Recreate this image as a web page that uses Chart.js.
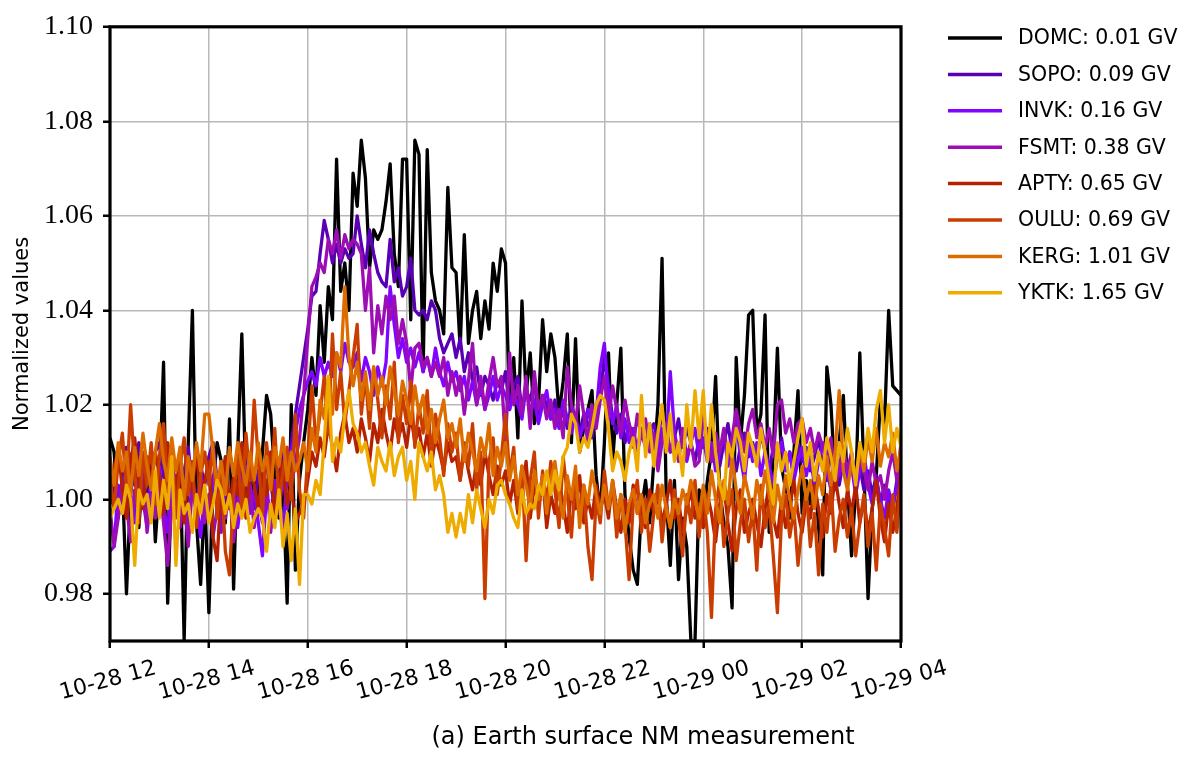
<!DOCTYPE html>
<html lang="en">
<head>
<meta charset="UTF-8">
<title>Earth surface NM measurement</title>
<script src="https://cdn.jsdelivr.net/npm/chart.js"></script>
<style>
    body {
        margin: 0;
        padding: 0;
        background: white;
    }
    #nmChart {
        display: block;
    }
</style>
</head>
<body>
<canvas id="nmChart" width="1189" height="757"></canvas>
<script>
    // stations, cut-off rigidity in the label
    const stations = ['DOMC: 0.01 GV', 'SOPO: 0.09 GV', 'INVK: 0.16 GV', 'FSMT: 0.38 GV',
                      'APTY: 0.65 GV', 'OULU: 0.69 GV', 'KERG: 1.01 GV', 'YKTK: 1.65 GV'];
    const colors = ['#000000', '#5a00b4', '#8004ff', '#9c0db4', '#b42000', '#c93e00', '#dd6c00', '#eeab00'];

    // x axis in hours after 10-28 12:00, one value every 5 minutes
    const xTickHours = [0, 2, 4, 6, 8, 10, 12, 14, 16];
    const xTickLabels = ['10-28 12', '10-28 14', '10-28 16', '10-28 18', '10-28 20',
                         '10-28 22', '10-29 00', '10-29 02', '10-29 04'];
    const yTicks = [0.98, 1.00, 1.02, 1.04, 1.06, 1.08, 1.10];

    // one line per hour (12 values), last value is 04:00
    const domc = [
        1.013, 1.010, 0.997, 1.004, 0.980, 1.001, 1.008, 0.994, 1.006, 0.996, 1.011, 0.991,
        1.004, 1.029, 0.978, 1.004, 0.998, 1.010, 0.970, 1.012, 1.040, 0.995, 0.982, 1.001,
        0.976, 1.003, 1.012, 1.008, 0.995, 1.017, 0.981, 1.010, 1.035, 1.002, 0.998, 1.006,
        1.000, 1.010, 1.022, 1.018, 1.005, 0.996, 1.003, 0.978, 1.020, 0.985, 1.004, 1.012,
        1.019, 1.030, 1.022, 1.041, 1.029, 1.045, 1.038, 1.072, 1.044, 1.050, 1.040, 1.069,
        1.062, 1.076, 1.068, 1.049, 1.057, 1.055, 1.057, 1.063, 1.071, 1.052, 1.045, 1.072,
        1.072, 1.038, 1.076, 1.073, 1.027, 1.074, 1.048, 1.042, 1.040, 1.035, 1.066, 1.049,
        1.048, 1.032, 1.056, 1.033, 1.040, 1.044, 1.034, 1.042, 1.036, 1.050, 1.044, 1.053,
        1.050, 1.019, 1.030, 1.013, 1.042, 1.022, 1.031, 1.016, 1.020, 1.038, 1.027, 1.035,
        1.030, 1.018, 1.025, 1.035, 1.012, 1.034, 1.010, 1.015, 1.019, 1.023, 1.005, 0.997,
        1.012, 1.031, 1.008, 1.020, 1.032, 1.001, 0.992, 0.985, 0.982, 0.998, 1.004, 0.995,
        1.008, 1.020, 1.051, 1.001, 0.986, 1.004, 0.983, 0.996, 0.990, 0.970, 0.970, 1.002,
        0.996, 1.004, 1.010, 1.026, 1.002, 0.995, 0.990, 0.977, 1.030, 1.012, 1.022, 1.039,
        1.040, 1.014, 1.018, 1.039, 0.993, 1.010, 1.032, 1.007, 1.002, 0.996, 1.010, 1.023,
        0.997, 1.004, 0.999, 1.006, 0.994, 0.984, 1.028, 1.020, 1.004, 1.012, 1.022, 1.003,
        0.988, 1.002, 1.031, 1.006, 0.979, 0.998, 1.005, 1.021, 1.016, 1.040, 1.024, 1.023,
        1.022
    ];
    const sopo = [
        1.008, 1.002, 0.996, 1.005, 1.011, 1.009, 1.003, 1.012, 1.006, 0.999, 1.004, 1.010,
        1.012, 1.005, 1.000, 1.008, 1.003, 0.996, 1.006, 1.011, 1.002, 0.998, 1.007, 1.003,
        1.009, 1.012, 1.004, 0.996, 1.001, 1.010, 1.005, 0.999, 1.007, 1.011, 1.003, 0.998,
        1.006, 1.001, 1.008, 1.004, 0.997, 1.005, 1.010, 1.003, 1.012, 1.018, 1.024, 1.030,
        1.036, 1.043, 1.044, 1.052, 1.059, 1.055, 1.050, 1.054, 1.050, 1.053, 1.051, 1.052,
        1.060, 1.054, 1.049, 1.057, 1.052, 1.048, 1.046, 1.045, 1.055, 1.046, 1.049, 1.043,
        1.045, 1.051, 1.040, 1.039, 1.040, 1.038, 1.042, 1.040, 1.034, 1.031, 1.033, 1.035,
        1.030, 1.034, 1.027, 1.031, 1.025, 1.028, 1.022, 1.026, 1.024, 1.021, 1.025, 1.023,
        1.027, 1.020, 1.024, 1.026, 1.019, 1.023, 1.021, 1.025, 1.018, 1.022, 1.020, 1.017,
        1.021, 1.016, 1.019, 1.015, 1.020, 1.017, 1.014, 1.018, 1.016, 1.013, 1.019, 1.022,
        1.030, 1.024, 1.017, 1.014, 1.018, 1.012, 1.016, 1.013, 1.011, 1.015, 1.012, 1.014,
        1.016, 1.012, 1.019, 1.014, 1.010, 1.013, 1.017, 1.011, 1.015, 1.012, 1.008, 1.013,
        1.011, 1.015, 1.009, 1.013, 1.007, 1.012, 1.016, 1.010, 1.006, 1.011, 1.014, 1.009,
        1.012, 1.008, 1.014, 1.010, 1.006, 1.011, 1.009, 1.013, 1.007, 1.010, 1.005, 1.012,
        1.008, 1.011, 1.006, 1.009, 1.013, 1.007, 1.004, 1.010, 1.006, 1.003, 1.008, 1.005,
        1.009, 1.004, 1.007, 1.002, 1.006, 1.001, 1.005, 0.999, 1.003, 1.000, 0.998, 1.004,
        1.008
    ];
    const invk = [
        0.989, 0.990, 1.003, 0.997, 1.008, 1.001, 0.995, 1.006, 1.000, 0.994, 1.004, 0.998,
        1.007, 0.999, 0.993, 1.003, 0.997, 1.008, 1.001, 0.995, 1.004, 0.999, 0.992, 1.002,
        0.996, 1.005, 1.000, 0.993, 1.006, 0.998, 1.003, 0.994, 1.001, 1.007, 0.997, 1.002,
        0.995, 0.988, 1.001, 0.996, 1.004, 0.999, 0.993, 1.005, 1.010, 1.014, 1.019, 1.022,
        1.025, 1.027, 1.024, 1.030, 1.026, 1.029, 1.026, 1.031, 1.027, 1.033, 1.029, 1.028,
        1.031, 1.025, 1.030, 1.027, 1.022, 1.028, 1.024, 1.029, 1.045, 1.037, 1.030, 1.034,
        1.029, 1.032, 1.028, 1.031, 1.027, 1.030, 1.026, 1.032, 1.027, 1.024, 1.029, 1.025,
        1.027, 1.023, 1.026, 1.021, 1.025, 1.020, 1.024, 1.019, 1.022, 1.026, 1.021, 1.024,
        1.022, 1.019, 1.023, 1.020, 1.017, 1.024, 1.018, 1.021, 1.016, 1.020, 1.023, 1.017,
        1.019, 1.015, 1.021, 1.017, 1.014, 1.018, 1.013, 1.016, 1.019, 1.015, 1.018, 1.028,
        1.033, 1.022, 1.016, 1.020, 1.013, 1.017, 1.012, 1.015, 1.010, 1.014, 1.011, 1.016,
        1.013, 1.009, 1.015, 1.011, 1.027, 1.014, 1.010, 1.013, 1.008, 1.012, 1.015, 1.009,
        1.013, 1.008, 1.012, 1.006, 1.010, 1.014, 1.007, 1.011, 1.017, 1.009, 1.004, 1.012,
        1.008, 1.012, 1.005, 1.010, 1.007, 1.003, 1.009, 1.012, 1.006, 1.010, 1.004, 1.008,
        1.011, 1.005, 1.009, 1.003, 1.008, 1.012, 1.006, 1.002, 1.009, 1.005, 1.010, 1.004,
        1.007, 1.001, 1.006, 1.010, 1.003, 0.999, 1.004, 1.000, 0.996, 1.002, 0.998, 1.003,
        1.009
    ];
    const fsmt = [
        0.998, 0.990, 0.996, 1.004, 0.999, 0.991, 1.002, 0.997, 1.006, 0.993, 1.001, 0.996,
        1.003, 0.995, 0.986, 0.999, 1.005, 0.994, 1.000, 0.990, 1.003, 0.997, 1.006, 0.995,
        1.001, 0.992, 0.998, 1.004, 0.996, 1.002, 0.991, 0.999, 1.005, 0.997, 1.003, 0.994,
        1.000, 0.995, 1.004, 0.993, 1.001, 0.997, 1.005, 0.998, 1.003, 1.008, 1.013, 1.022,
        1.034, 1.045, 1.047, 1.050, 1.048, 1.055, 1.052, 1.057, 1.051, 1.056, 1.053, 1.055,
        1.054, 1.052, 1.040, 1.049, 1.031, 1.041, 1.035, 1.043, 1.038, 1.043, 1.033, 1.038,
        1.033, 1.023, 1.032, 1.033, 1.028, 1.030, 1.026, 1.029, 1.026, 1.030, 1.022, 1.027,
        1.022, 1.026, 1.018, 1.025, 1.033, 1.020, 1.026, 1.019, 1.025, 1.030, 1.024, 1.026,
        1.012, 1.031, 1.020, 1.024, 1.018, 1.026, 1.015, 1.027, 1.019, 1.022, 1.017, 1.021,
        1.015, 1.019, 1.013, 1.028, 1.020, 1.016, 1.024, 1.018, 1.012, 1.020, 1.015, 1.021,
        1.026, 1.017, 1.024, 1.019, 1.014, 1.021, 1.016, 1.011, 1.018, 1.013, 1.017, 1.010,
        1.014, 1.006, 1.012, 1.016, 1.010, 1.013, 1.008, 1.015, 1.009, 1.012, 1.007, 1.008,
        1.018, 1.012, 1.008, 1.014, 1.010, 1.015, 1.009, 1.013, 1.019, 1.014, 1.010, 1.016,
        1.019, 1.013, 1.016, 1.011, 1.015, 1.009, 1.020, 1.021, 1.014, 1.017, 1.012, 1.016,
        1.017, 1.012, 1.015, 1.010, 1.014, 1.011, 1.008, 1.013, 1.002, 1.007, 1.011, 1.006,
        1.010, 1.004, 1.009, 1.006, 1.002, 1.008, 1.003, 1.005, 1.000, 1.006, 1.010, 1.004,
        1.012
    ];
    const apty = [
        0.999, 1.006, 1.011, 1.002, 0.996, 1.008, 1.013, 1.004, 0.998, 1.009, 1.003, 1.010,
        1.005, 0.997, 1.012, 1.007, 1.001, 1.010, 0.995, 1.006, 1.002, 1.011, 0.999, 1.004,
        1.008, 0.992, 0.987, 1.003, 1.009, 0.998, 1.005, 1.001, 1.012, 0.996, 1.007, 1.003,
        0.998, 1.006, 1.001, 1.010, 0.995, 1.004, 1.008, 0.999, 1.003, 0.995, 0.997, 0.999,
        1.004, 1.010, 1.007, 1.013, 1.009, 1.016, 1.011, 1.006, 1.014, 1.018, 1.012, 1.015,
        1.010, 1.017, 1.013, 1.008, 1.016, 1.012, 1.019, 1.014, 1.010, 1.017, 1.013, 1.016,
        1.011, 1.018, 1.012, 1.015, 1.009, 1.014, 1.007, 1.013, 1.010, 1.006, 1.012, 1.008,
        1.009, 1.004, 1.011, 1.006, 1.002, 1.008, 1.003, 1.010, 1.005, 1.001, 1.007, 1.003,
        1.006, 0.999, 1.004, 0.997, 1.002, 1.008, 0.996, 1.003, 0.999, 1.005, 0.994, 1.001,
        0.997, 1.004, 0.999, 0.993, 1.002, 0.998, 1.005, 0.995, 1.000, 0.996, 1.003, 0.998,
        1.001, 0.996, 1.004, 0.998, 0.993, 1.000, 0.995, 1.003, 0.997, 0.999, 0.994, 1.002,
        0.997, 1.001, 0.995, 0.999, 1.004, 0.996, 1.000, 0.993, 0.998, 1.002, 0.996, 0.999,
        0.994, 1.001, 0.997, 0.991, 0.999, 1.003, 0.995, 0.989, 0.998, 1.002, 0.993, 0.997,
        1.000, 0.995, 0.990, 0.998, 1.003, 0.996, 0.992, 1.000, 0.994, 0.998, 1.004, 0.997,
        0.993, 1.000, 0.996, 1.003, 0.998, 0.992, 1.001, 0.997, 1.005, 0.999, 0.994, 1.002,
        0.997, 1.003, 0.995, 1.000, 0.993, 0.998, 1.004, 0.996, 0.991, 0.999, 0.993, 0.998,
        1.006
    ];
    const oulu = [
        1.004, 0.998, 1.008, 1.014, 1.002, 1.020, 1.006, 0.995, 1.010, 1.003, 1.012, 0.999,
        1.009, 1.016, 1.002, 1.011, 0.996, 1.007, 1.013, 1.001, 1.008, 0.994, 1.005, 1.010,
        1.003, 1.012, 0.996, 1.006, 0.989, 0.984, 1.001, 1.009, 0.998, 1.014, 1.004, 1.021,
        1.008, 0.997, 1.012, 1.003, 1.015, 0.999, 1.006, 1.011, 1.000, 1.018, 1.002, 0.996,
        1.009, 1.024, 1.012, 1.018, 1.026, 1.014, 1.035, 1.019, 1.027, 1.016, 1.023, 1.030,
        1.037, 1.018, 1.026, 1.015, 1.028, 1.021, 1.013, 1.024, 1.017, 1.029, 1.012, 1.022,
        1.016, 1.025, 1.011, 1.020, 1.014, 1.023, 1.009, 1.018, 1.013, 1.005, 1.016, 1.010,
        1.014, 1.004, 1.012, 1.007, 1.016, 1.002, 1.010, 0.979, 1.008, 1.013, 1.001, 1.009,
        1.018, 1.005, 1.011, 0.998, 1.007, 0.987, 1.004, 1.010, 0.996, 1.006, 0.999, 1.008,
        1.002, 0.994, 1.009, 1.001, 0.992, 1.005, 0.997, 1.003, 0.990, 0.983, 1.000, 0.995,
        1.006, 0.998, 1.003, 0.992, 1.001, 0.995, 0.983, 0.999, 1.004, 0.993, 1.000, 0.989,
        0.997, 1.003, 0.991, 0.999, 0.994, 1.002, 0.996, 0.988, 1.001, 0.995, 1.004, 0.992,
        1.001, 0.993, 0.975, 0.998, 1.004, 0.990, 0.997, 1.002, 0.987, 0.995, 1.000, 0.991,
        0.998, 0.985, 1.003, 0.994, 0.999, 0.988, 0.976, 0.996, 1.001, 0.992, 0.998, 0.986,
        0.995, 1.002, 0.990, 0.997, 0.984, 0.999, 0.993, 1.003, 0.989, 0.996, 1.000, 0.992,
        0.998, 0.988, 0.995, 1.001, 0.990, 0.997, 0.985, 0.999, 0.994, 0.988, 1.001, 0.993,
        1.004
    ];
    const kerg = [
        1.009, 1.003, 1.012, 1.006, 1.010, 1.001, 1.011, 1.005, 1.014, 1.007, 1.002, 1.010,
        1.016, 1.008, 1.004, 1.013, 1.006, 1.011, 1.000, 1.009, 1.004, 1.012, 1.006, 1.018,
        1.018, 1.010, 1.003, 1.008, 1.001, 1.011, 1.005, 1.012, 1.007, 1.003, 1.010, 1.004,
        1.012, 1.006, 1.009, 1.002, 1.011, 1.007, 1.013, 1.004, 1.010, 1.006, 1.008, 1.012,
        1.006, 1.015, 1.010, 1.021, 1.017, 1.026, 1.018, 1.031, 1.028, 1.045, 1.030, 1.024,
        1.029, 1.021, 1.027, 1.019, 1.028, 1.022, 1.026, 1.020, 1.028, 1.023, 1.018, 1.025,
        1.021, 1.016, 1.024, 1.018, 1.022, 1.014, 1.019, 1.012, 1.017, 1.021, 1.013, 1.016,
        1.011, 1.017, 1.008, 1.014, 1.010, 1.006, 1.013, 1.009, 1.016, 1.005, 1.011, 1.007,
        1.012, 1.004, 1.009, 1.001, 1.007, 1.003, 0.998, 1.006, 1.000, 1.005, 0.997, 1.004,
        1.008, 1.001, 0.996, 1.005, 1.000, 1.007, 0.994, 1.003, 0.999, 1.006, 1.001, 0.997,
        1.003, 0.998, 1.004, 0.996, 1.001, 0.993, 0.999, 1.002, 0.997, 1.001, 0.995, 0.999,
        1.001, 0.996, 1.003, 0.998, 0.994, 1.000, 0.997, 1.002, 0.999, 1.004, 1.000, 0.996,
        1.003, 0.997, 1.006, 1.000, 0.995, 1.004, 0.999, 1.009, 1.002, 0.997, 1.005, 1.001,
        0.996, 1.004, 0.999, 1.006, 1.001, 0.995, 1.003, 0.998, 1.005, 1.000, 0.996, 1.002,
        1.007, 1.000, 1.004, 0.998, 1.005, 1.001, 1.009, 1.003, 1.010, 1.023, 1.006, 1.002,
        1.008, 1.004, 1.011, 1.006, 1.013, 1.008, 1.015, 1.007, 1.012, 1.009, 1.014, 1.006,
        1.011
    ];
    const yktk = [
        0.996, 0.998, 1.000, 0.997, 1.003, 1.000, 0.986, 1.002, 0.999, 1.001, 0.995, 1.006,
        0.996, 1.004, 0.998, 1.009, 0.986, 1.002, 0.997, 0.999, 0.993, 1.001, 0.997, 1.003,
        0.995, 0.999, 1.004, 1.002, 0.997, 1.001, 0.994, 0.999, 0.996, 1.000, 0.993, 0.996,
        0.998, 0.996, 0.989, 0.999, 0.994, 1.002, 0.990, 0.997, 0.987, 0.998, 0.982, 1.001,
        1.001, 0.999, 1.004, 1.001, 1.012, 1.026, 1.008, 1.013, 1.010, 1.018, 1.023, 1.016,
        1.014, 1.010, 1.012, 1.007, 1.003, 1.011, 1.008, 1.006, 1.012, 1.005, 1.009, 1.011,
        1.004, 1.008, 1.000, 1.012, 1.009, 1.006, 1.010, 1.002, 1.005, 1.001, 0.993, 0.997,
        0.992, 0.997, 0.993, 1.001, 0.995, 1.002, 0.998, 0.994, 1.000, 0.997, 1.003, 1.004,
        1.001, 0.999, 0.996, 0.994, 1.002, 0.997, 0.999, 0.998, 1.003, 1.001, 1.006, 1.001,
        1.006, 1.002, 1.009, 1.011, 1.018, 1.016, 1.010, 1.013, 1.011, 1.015, 1.020, 1.022,
        1.021, 1.015, 1.006, 1.010, 1.008, 1.004, 1.010, 1.013, 1.006, 1.022, 1.009, 1.016,
        1.007, 1.014, 1.020, 1.010, 1.018, 1.008, 1.012, 1.005, 1.020, 1.011, 1.023, 1.013,
        1.023, 1.008, 1.020, 1.010, 1.003, 1.000, 1.012, 1.009, 1.015, 1.012, 1.006, 1.014,
        1.011, 1.007, 1.015, 1.010, 1.004, 0.999, 1.012, 1.006, 1.010, 1.003, 1.008, 1.013,
        1.017, 1.007, 1.012, 1.004, 1.010, 1.006, 1.013, 1.009, 1.004, 1.012, 1.008, 1.015,
        1.010, 1.003, 1.012, 1.008, 1.015, 1.010, 1.019, 1.023, 1.012, 1.020, 1.010, 1.015,
        1.011
    ];
    const series = [domc, sopo, invk, fsmt, apty, oulu, kerg, yktk];

    // sample i is i*5 minutes after the start
    const datasets = series.map((vals, k) => ({
        label: stations[k],
        data: vals.map((v, i) => ({ x: i / 12, y: v })),
        borderColor: colors[k],
        borderWidth: 3.3,
        borderJoinStyle: 'round',
        pointRadius: 0,
        tension: 0,
        fill: false,
        order: series.length - 1 - k   // last station drawn on top, like matplotlib
    }));

    const extras = {
        id: 'extras',
        afterDatasetsDraw(chart) {
            const ctx = chart.ctx;
            const a = chart.chartArea;
            ctx.save();
            ctx.strokeStyle = 'black';
            ctx.lineWidth = 3.2;
            ctx.strokeRect(a.left, a.top, a.right - a.left, a.bottom - a.top);
            ctx.restore();
        },
        afterDraw(chart) {
            const ctx = chart.ctx;
            const xs = chart.scales.x;
            ctx.save();
            // rotated date labels, centred under each tick
            ctx.fillStyle = 'black';
            ctx.font = '22px "DejaVu Sans"';
            ctx.textAlign = 'center';
            ctx.textBaseline = 'middle';
            xTickHours.forEach((h, i) => {
                ctx.save();
                ctx.translate(xs.getPixelForValue(h) - 2, 681);
                ctx.rotate(-15 * Math.PI / 180);
                ctx.fillText(xTickLabels[i], 0, 0);
                ctx.restore();
            });
            // caption
            ctx.font = '24px "DejaVu Sans"';
            ctx.fillText('(a) Earth surface NM measurement', 643, 738);
            // legend
            ctx.font = '20.5px "DejaVu Sans"';
            ctx.textAlign = 'left';
            chart.data.datasets.forEach((ds, i) => {
                const y = 38 + i * 36.4;
                ctx.strokeStyle = ds.borderColor;
                ctx.lineWidth = 3.5;
                ctx.beginPath();
                ctx.moveTo(948, y);
                ctx.lineTo(1002, y);
                ctx.stroke();
                ctx.fillText(ds.label, 1018, y + 1);
            });
            ctx.restore();
        }
    };

    const ctx = document.getElementById('nmChart').getContext('2d');
    const nmChart = new Chart(ctx, {
        type: 'line',
        data: { datasets: datasets },
        options: {
            responsive: false,
            animation: false,
            devicePixelRatio: 1,
            layout: { padding: { left: 0, right: 288, top: 17, bottom: 0 } },
            plugins: {
                legend: { display: false },
                tooltip: { enabled: false }
            },
            scales: {
                x: {
                    type: 'linear',
                    min: 0,
                    max: 16,
                    afterBuildTicks: (scale) => { scale.ticks = xTickHours.map(v => ({ value: v })); },
                    afterFit: (scale) => { scale.height = 116; },
                    ticks: { display: false },
                    grid: {
                        color: '#b8b8b8',
                        lineWidth: 1.5,
                        tickLength: 7,
                        tickColor: 'black',
                        tickWidth: 2.5
                    },
                    border: { display: false }
                },
                y: {
                    min: 0.97,
                    max: 1.10,
                    afterBuildTicks: (scale) => { scale.ticks = yTicks.map(v => ({ value: v })); },
                    afterFit: (scale) => { scale.width = 110; },
                    ticks: {
                        color: 'black',
                        padding: 10,
                        font: { family: '"Liberation Serif"', size: 28 },
                        callback: (v) => v.toFixed(2)
                    },
                    grid: {
                        color: '#b8b8b8',
                        lineWidth: 1.5,
                        tickLength: 7,
                        tickColor: 'black',
                        tickWidth: 2.5
                    },
                    border: { display: false },
                    title: {
                        display: true,
                        text: 'Normalized values',
                        color: 'black',
                        font: { family: '"DejaVu Sans"', size: 21 },
                        padding: { top: 10, bottom: 0 }
                    }
                }
            }
        },
        plugins: [extras]
    });
</script>
</body>
</html>
